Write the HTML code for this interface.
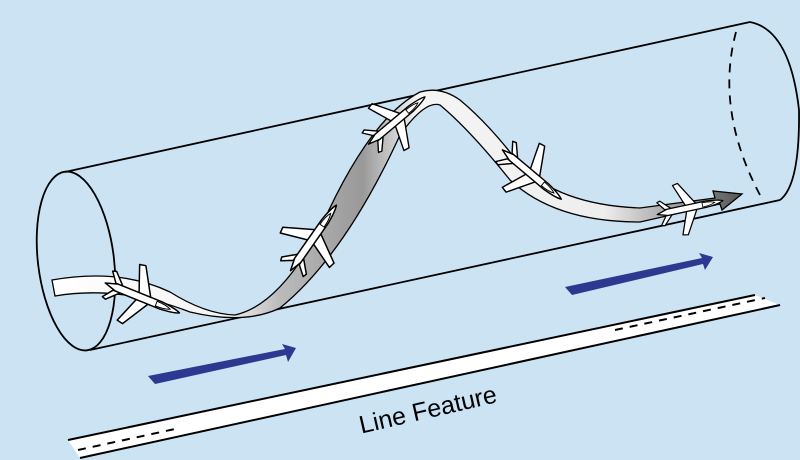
<!DOCTYPE html>
<html><head><meta charset="utf-8"><style>
html,body{margin:0;padding:0;background:#cce3f4;}
svg{display:block;}
</style></head><body>
<svg width="800" height="460" viewBox="0 0 800 460" xmlns="http://www.w3.org/2000/svg">
<defs>
<linearGradient id="rg" x1="0" y1="0" x2="1" y2="0">
<stop offset="0" stop-color="#ffffff"/>
<stop offset="0.25" stop-color="#f4f4f4"/>
<stop offset="0.33" stop-color="#bbb"/>
<stop offset="0.45" stop-color="#999"/>
<stop offset="0.53" stop-color="#f5f5f5"/>
<stop offset="0.8" stop-color="#eee"/>
<stop offset="1" stop-color="#555"/>
</linearGradient>
<g id="pl">
<path d="M-30,0 L-20,-3 L18,-3 Q30,-2 34,0 Q30,2 18,3 L-20,3 Z M-2,-3 L-10,-24 L-5,-25 L8,-3 Z M-2,3 L-10,24 L-5,25 L8,3 Z M-22,-3 L-28,-11 L-25,-12 L-16,-3 Z M-22,3 L-28,11 L-25,12 L-16,3 Z" fill="#fff" stroke="#000" stroke-width="1.2" stroke-linejoin="round"/>
<path d="M14,-2 Q22,-2 26,0 Q22,2 14,2 Z" fill="#fff" stroke="#000" stroke-width="0.8"/>
</g>
</defs>
<rect width="800" height="460" fill="#cce3f4"/>
<!-- runway -->
<path d="M68,440 L755,295 L780,305 L80,458 Z" fill="#fff"/>
<path d="M68,440 L755,295 M80,458 L780,305" stroke="#000" stroke-width="2" fill="none"/>
<path d="M78,450 L175,429 M615,330 L765,298" stroke="#000" stroke-width="2" stroke-dasharray="8,7" fill="none"/>
<text x="428" y="418" transform="rotate(-13 428 410)" text-anchor="middle" font-family="Liberation Sans Narrow, Liberation Sans, sans-serif" font-size="25" fill="#000">Line Feature</text>
<!-- blue arrows -->
<path d="M148,376 L285,349 L282,344 L296,348 L288,362 L286,355 L155,384 Z" fill="#2b3990"/>
<path d="M565,287 L702,258 L699,253 L713,257 L705,270 L703,264 L572,295 Z" fill="#2b3990"/>
<!-- cylinder -->
<path d="M65,172 L750,22 M90,350 L780,200" stroke="#000" stroke-width="1.8" fill="none"/>
<ellipse cx="76" cy="261" rx="38" ry="90" transform="rotate(-7 76 261)" fill="none" stroke="#000" stroke-width="1.8"/>
<path d="M750,22 Q790,30 799,110 Q800,185 780,200" fill="none" stroke="#000" stroke-width="1.8"/>
<path d="M736,32 Q715,110 760,195" fill="none" stroke="#000" stroke-width="1.8" stroke-dasharray="9,7"/>
<!-- ribbon -->
<path d="M52,280 Q120,268 170,292 Q205,314 235,315 Q280,305 322,225 Q370,118 420,92 Q440,86 460,100 Q490,125 520,165 Q560,205 640,208 L715,198 L713,191 L742,194 L722,210 L720,204 L640,222 Q555,222 510,180 Q470,130 440,105 Q425,100 400,135 Q345,255 280,308 Q245,325 190,312 Q120,285 55,296 Z" fill="url(#rg)" stroke="#000" stroke-width="1.3"/>
<!-- planes -->
<use href="#pl" transform="translate(140,297) rotate(22) scale(1.25)"/>
<use href="#pl" transform="translate(312,240) rotate(-55) scale(1.25)"/>
<use href="#pl" transform="translate(395,122) rotate(-40) scale(1.15)"/>
<use href="#pl" transform="translate(530,173) rotate(40) scale(1.2)"/>
<use href="#pl" transform="translate(688,208) rotate(-12) scale(1.05)"/>
</svg>
</body></html>
